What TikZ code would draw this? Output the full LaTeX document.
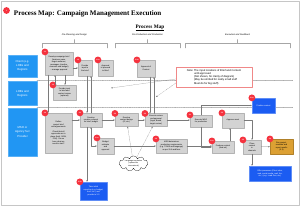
\documentclass[tikz,border=0pt]{standalone}
\usepackage{fontspec}
\setmainfont{Liberation Sans}
\newfontfamily\mapserif{Liberation Serif}
\usetikzlibrary{arrows.meta,shapes.symbols}
\definecolor{mapLaneBlue}{HTML}{2196F3}
\definecolor{mapActBlue}{HTML}{1B5CF2}
\definecolor{mapBoxGray}{HTML}{D3D3D3}
\definecolor{mapBadgeRed}{HTML}{F5323E}
\definecolor{mapOrange}{HTML}{DCA033}
\definecolor{mapNoteRed}{HTML}{F08888}
\definecolor{mapLineGray}{HTML}{7A7A7A}
\tikzset{
    gbox/.style={fill=mapBoxGray, draw=mapBoxGray!85!black, line width=0.2pt, align=center, inner sep=0.4pt, font=\fontsize{2.8}{3.5}\selectfont},
    lanebox/.style={fill=mapLaneBlue, draw=mapLaneBlue!75!white, line width=0.4pt, text=white, align=center, minimum width=14.5mm, font=\fontsize{4}{6}\selectfont},
    actbox/.style={fill=mapActBlue, draw=mapActBlue!70!white, line width=0.4pt, text=white, align=center, inner sep=0.4pt, font=\fontsize{2.8}{3.5}\selectfont},
    obox/.style={fill=mapOrange, draw=mapOrange!80!black, line width=0.2pt, align=center, inner sep=0.4pt, font=\fontsize{2.8}{3.5}\selectfont},
    badge/.style={circle, fill=mapBadgeRed, text=white, minimum size=3.4mm, inner sep=0pt, font=\fontsize{2.4}{2.6}\selectfont\bfseries},
    qarr/.style={-{Stealth[length=0.9mm, width=0.7mm]}, line width=0.4pt, draw=mapLineGray},
    qboth/.style={{Stealth[length=0.9mm, width=0.7mm]}-{Stealth[length=0.9mm, width=0.7mm]}, line width=0.4pt, draw=mapLineGray},
    qdot/.style={qarr, densely dotted},
    lanesep/.style={densely dotted, draw=gray!65, line width=0.6pt},
    brk/.style={draw=gray!70, line width=0.5pt},
    phase/.style={font=\fontsize{3.2}{3.6}\selectfont\itshape}
}
\begin{document}
\begin{tikzpicture}[x=0.5mm, y=-0.5mm, line cap=round, line join=round]
            \useasboundingbox (0,0) rectangle (300,206);
            \draw[gray!45, line width=0.6pt] (1,1) rectangle (299,205);

            \node[badge] (tbadge) at (6.5,10.5) {1};
            \node[anchor=west, font=\mapserif\bfseries\fontsize{10}{11}\selectfont] (title) at (11.5,14) {Process Map: Campaign Management Execution};
            \node[font=\mapserif\bfseries\fontsize{7.5}{8}\selectfont] (maphead) at (150,28) {\underline{Process Map}};

            \node[phase] (ph1) at (74.5,34.5) {Pre-Planning and Design};
            \node[phase] (ph2) at (147.5,34.5) {Pre-Production and Production};
            \node[phase] (ph3) at (237.5,34.5) {Execution and Feedback};
            \draw[brk] (42,48) -- (42,43) -- (107,43) -- (107,48);
            \draw[brk] (74.5,43) -- (74.5,39.5);
            \draw[brk] (115,48) -- (115,43) -- (180,43) -- (180,48);
            \draw[brk] (147.5,43) -- (147.5,39.5);
            \draw[brk] (185,48) -- (185,43) -- (290,43) -- (290,48);
            \draw[brk] (237.5,43) -- (237.5,39.5);

            \draw[lanesep] (37,80) -- (293,80);
            \draw[lanesep] (37,107) -- (293,107);

            \node[lanebox, minimum height=11mm] (lane1) at (22.5,66) {Client (e.g.\\ LOBs and\\ Regions};
            \node[lanebox, minimum height=12mm] (lane2) at (22.5,93.5) {LOBs and\\ Regions};
            \node[lanebox, minimum height=24mm] (lane3) at (22.5,132) {MSO or\\ Agency Svc\\ Provider};

            \node[gbox, minimum width=14mm, minimum height=11.5mm] (A) at (59,63.5) {Develop campaign brief\\ (business case,\\ target audience,\\ messages, timeline,\\ channels and budget)\\ -- manage approval};
            \node[gbox, minimum width=7mm, minimum height=8mm] (B) at (85,68) {Provide\\ input to\\ the brief};
            \node[gbox, minimum width=7.5mm, minimum height=8mm] (C) at (105.5,68) {Approval\\ to proceed\\ to Brief};
            \node[gbox, minimum width=9mm, minimum height=8.5mm] (D) at (146,68.5) {Approval of\\ Content};
            \node[fill=white, draw=mapNoteRed, line width=0.6pt, minimum width=38mm, minimum height=10mm, inner sep=0.6pt, font=\fontsize{3.8}{4.6}\selectfont] (note) at (214,77) {Note:~\begin{tabular}[t]{@{}l@{}}The input locations of Brief and Content\\ until approved\\ (Not shown, for clarity of diagram)\\ (May be omitted for really small stuff\\ Must do for big stuff)\end{tabular}};

            \node[gbox, minimum width=11.5mm, minimum height=7.5mm] (E) at (64.5,92.5) {Provide input\\ to brief and\\ content review\\ (optional)};

            \node[gbox, minimum width=13.5mm, minimum height=20mm] (F) at (58.5,133) {Define\\ project brief\\ and agreements\\[3pt] Check that all\\ approvals are in\\ place (brief, SOW,\\ POs). Do we\\ have what we\\ need to start?};
            \node[gbox, minimum width=11mm, minimum height=7mm] (G) at (91,120) {Develop\\ creative concept\\ for brief, budget};
            \node[gbox, minimum width=11.5mm, minimum height=6.5mm] (H) at (126.5,120) {Develop\\ content design\\ (IP, etc.)};
            \node[gbox, minimum width=11mm, minimum height=6.5mm] (I) at (156,120) {Execute review\\ and approval\\ (legal, brand,\\ target review)};
            \node[gbox, minimum width=11mm, minimum height=6mm] (J) at (201,121) {Execute MSO\\ for production};
            \node[gbox, minimum width=11mm, minimum height=7.5mm] (K) at (233,120.5) {Approve asset};
            \node[actbox, minimum width=11.5mm, minimum height=7.5mm] (Fin) at (263.5,105.5) {Finalize content};

            \node[gbox, minimum width=8.5mm, minimum height=8mm] (L) at (105.5,146) {Budget\\ estimate\\ and\\ approval};
            \node[gbox, minimum width=15.5mm, minimum height=7mm] (M) at (171.5,146) {MSO determines\\ production requirements\\ (e.g. TOMS and language)\\ as per SLA and fees};
            \node[gbox, minimum width=11mm, minimum height=6mm] (N) at (223,147) {Produce content\\ (final art)};
            \node[gbox, minimum width=9mm, minimum height=7mm] (O) at (252,147) {Place\\ content\\ in\\ channels};
            \node[obox, minimum width=11.5mm, minimum height=7.5mm] (P) at (281.5,146.5) {Run project,\\ evaluate and\\ report results\\ (3.3)};
            \node[actbox, minimum width=21mm, minimum height=7.5mm] (Q) at (270,173.5) {Offer processes (Client sites,\\ web, social media, mail, fax,\\ etc.) (e.g. Lead Gen, etc.)};
            \node[actbox, minimum width=13.5mm, minimum height=9mm] (R) at (93.5,191) {Take initial\\ reporting (e.g. budget,\\ fees, etc.) and\\ provide to 3.3};
            \node[cloud, cloud puffs=11, aspect=2.3, draw, fill=white, line width=0.3pt, inner sep=0pt, minimum width=14.5mm, minimum height=6.5mm, align=center, font=\fontsize{2.6}{3.1}\selectfont] (cloud) at (133.5,163.5) {Language translation\\ (optional for\\ international)};

            \node[badge] (bA) at (A.north west) {1.1};
            \node[badge] (bB) at (B.north west) {1.2};
            \node[badge] (bC) at (C.north west) {1.2a};
            \node[badge] (bD) at (D.north west) {2.3a};
            \node[badge] (bE) at (E.north west) {1.3};
            \node[badge] (bF) at (F.north west) {1.4};
            \node[badge] (bG) at (G.north west) {2.1};
            \node[badge] (bH) at (H.north west) {2.2};
            \node[badge] (bI) at (I.north west) {2.3};
            \node[badge] (bJ) at (J.north west) {3.1};
            \node[badge] (bK) at (K.north west) {3.2};
            \node[badge] (bFin) at (Fin.north west) {3.2a};
            \node[badge] (bL) at (L.north west) {2.1a};
            \node[badge] (bM) at (M.north west) {2.4};
            \node[badge] (bN) at (N.north west) {3.1a};
            \node[badge] (bO) at (O.north west) {3.3};
            \node[badge] (bP) at (P.north west) {3.4};
            \node[badge] (bR) at (R.north west) {2.1b};

            \coordinate (briefin) at (111,88);
            \coordinate (contentin) at (156,97);

            \draw[qarr] (A.east |- B.west) -- (B.west);
            \draw[qarr] ([xshift=-5.5mm]A.south) -- ([xshift=-5.5mm]A.south |- F.north);
            \draw[qarr] ([xshift=3mm]A.south) -- ([xshift=3mm]A.south |- E.north);
            \draw[qarr] ([xshift=-2mm]A.south |- E.north) -- ([xshift=-2mm]A.south);
            \draw[qarr] ([xshift=1mm]B.south) -- ([xshift=1mm]B.south |- G.north);
            \draw[qarr] ([xshift=3mm]B.south |- G.north) -- ([xshift=3mm]B.south);
            \draw[qarr] ([xshift=2mm]D.south) -- ([xshift=2mm]D.south |- I.north);
            \draw[qarr] ([xshift=4mm]D.south |- I.north) -- ([xshift=4mm]D.south);
            \draw[qdot] ([yshift=-1mm]note.west) -- (briefin);
            \draw[qdot] ([yshift=-3mm]note.west) -- (contentin);

            \draw[qarr] (F.east |- G.west) -- (G.west);
            \draw[qarr] (G) -- (H);
            \draw[qarr] (H) -- (I);
            \draw[qarr] (I.east) -- (I.east -| J.west);
            \draw[qarr] (J.north) |- (Fin.west);
            \draw[qarr] (J.south) |- (N.west);
            \draw[qarr] (K.east) -| (O.north);
            \draw[qarr] ([xshift=3.5mm]N.north) -- ([xshift=3.5mm]N.north |- K.south);
            \draw[qboth] (G.south) |- (L.west);
            \draw[qarr] ([xshift=-2mm]G.south) -- ([xshift=-2mm]G.south |- R.north);
            \draw[qarr] (L) -- (M);
            \draw[qarr] (M.east) -- (M.east -| N.west);
            \draw[qarr] (O) -- (P);
            \draw[qarr] (O.south) -- (O.south |- Q.north);
            \draw[qdot] (cloud) -- (H);
            \draw[qdot] (cloud) -- (I);
        \end{tikzpicture}
\end{document}
